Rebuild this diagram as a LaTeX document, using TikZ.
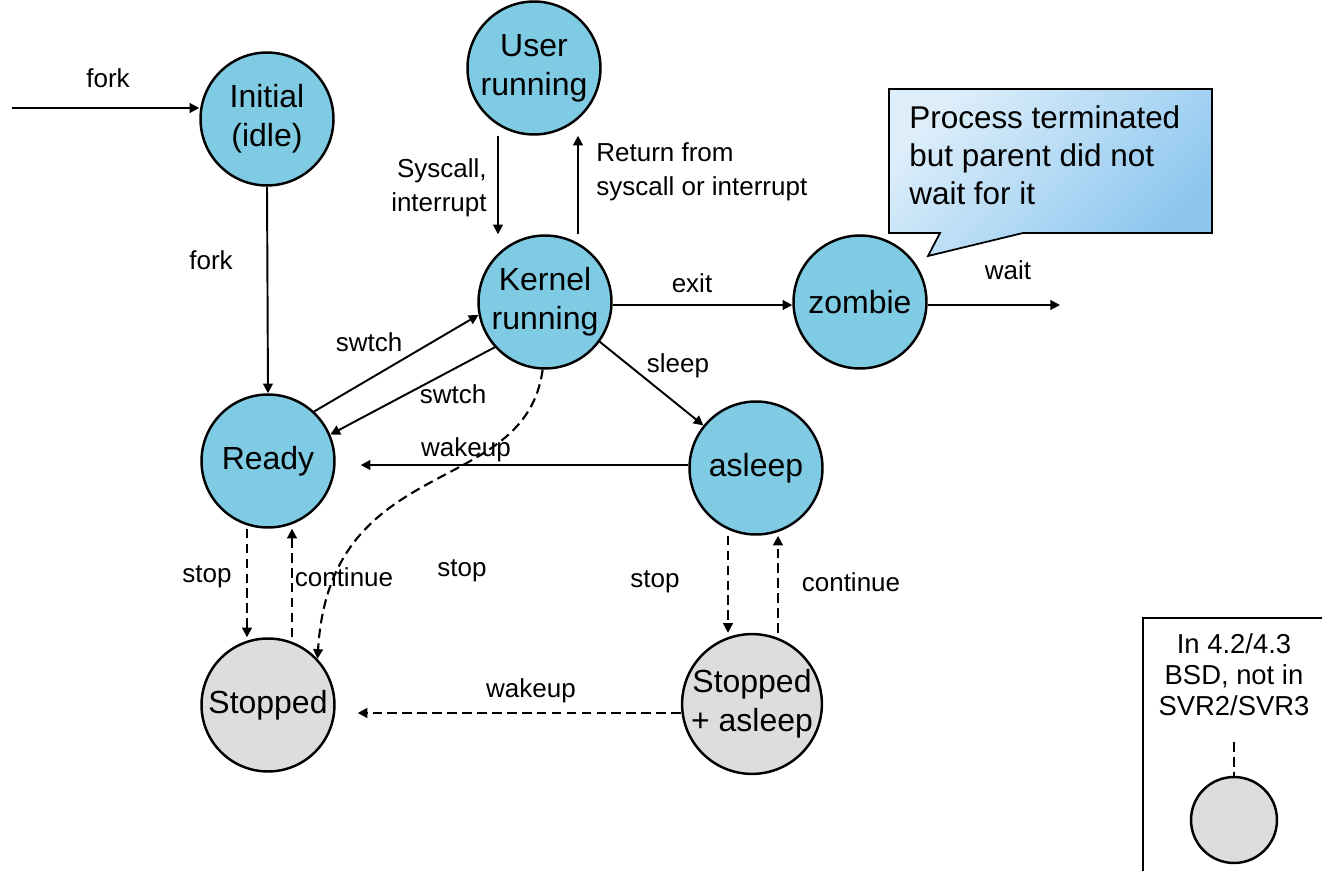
\documentclass[tikz,border=0pt]{standalone}
\usepackage{fontspec}
\setmainfont{Liberation Sans}
\usetikzlibrary{arrows.meta}

\definecolor{statebl}{HTML}{7ECBE3}
\definecolor{stategr}{HTML}{DDDDDD}
\definecolor{notelt}{HTML}{DDEEFA}
\definecolor{notedk}{HTML}{8CC6EF}

\begin{document}
\begin{tikzpicture}[x=0.02cm,y=-0.02cm,
  state/.style={circle,draw=black,line width=1.4pt,fill=statebl,minimum size=2.66cm,inner sep=0pt,align=center,font=\fontsize{18.2}{22.2}\selectfont},
  stoppd/.style={state,fill=stategr},
  lbl/.style={inner sep=0pt,font=\fontsize{14.8}{19.3}\selectfont},
  arr/.style={-{Triangle[length=5.5pt,width=5.5pt]},line width=1.1pt},
  darr/.style={arr,line width=1.2pt,dash pattern=on 5.5pt off 3pt}]
 \useasboundingbox (0,0) rectangle (1322,871);

 % states
 \node[state] (initial) at (267,119) {Initial\\(idle)};
 \node[state] (user) at (534,68) {User\\running};
 \node[state] (kernel) at (545,302) {Kernel\\running};
 \node[state] (zombie) at (860,302) {zombie};
 \node[state] (ready) at (268,461) {Ready};
 \node[state] (asleep) at (756,468) {asleep};
 \node[stoppd] (stopped) at (268,705) {Stopped};
 \node[stoppd] (stopasleep) at (752,704) {Stopped\\+ asleep};
 \coordinate (forkin) at (12,108);
 \coordinate (waitout) at (1060,305);

 % callout
 \path[draw=black,line width=1pt,top color=notelt,bottom color=notedk,shading angle=45]
  (889,89) -- (1212,89) -- (1212,233) -- (1023,233) -- (928,256) -- (940,233) -- (889,233) -- cycle;
 \node[anchor=north west,inner sep=0pt,align=left,font=\fontsize{17.9}{21.6}\selectfont] (note) at (909,105)
  {Process terminated\\but parent did not\\wait for it};

 % solid transitions
 \draw[arr] (forkin) -- (forkin -| initial.west);
 \draw[arr] (initial.south) -- (ready.north);
 \draw[arr] (user.south -| 498,0) -- (kernel.north -| 498,0);
 \draw[arr] (kernel.north -| 578,0) -- (user.south -| 578,0);
 \draw[arr] (kernel.east |- 0,305) -- (zombie.west |- 0,305);
 \draw[arr] (zombie.east |- waitout) -- (waitout);
 \draw[arr] (ready.47) -- (kernel.191);
 \draw[arr] (kernel.222) -- (ready.23);
 \draw[arr] (kernel.-36) -- (asleep.141);
 \draw[arr,shorten >=0.5cm] (asleep.west |- 0,465) -- (ready.east |- 0,465);

 % dashed transitions
 \draw[darr] (kernel.268) .. controls (525,500) and (330,450) .. (stopped.43);
 \draw[darr] (ready.south -| 247,0) -- (stopped.north -| 247,0);
 \draw[darr] (stopped.north -| 292,0) -- (ready.south -| 292,0);
 \draw[darr] (asleep.south -| 728,0) -- (stopasleep.north -| 728,0);
 \draw[darr] (stopasleep.north -| 778,0) -- (asleep.south -| 778,0);
 \draw[darr,shorten >=0.44cm] (stopasleep.west |- 0,713) -- (stopped.east |- 0,713);

 % labels
 \node[lbl] (lfork) at (108,78) {fork};
 \node[lbl] (lfork2) at (211,260) {fork};
 \node[lbl,align=right,anchor=east] (lsys) at (487,188) {Syscall,\\interrupt};
 \node[lbl,align=left,anchor=west] (lret) at (596,172) {Return from\\syscall or interrupt};
 \node[lbl] (lexit) at (692,283) {exit};
 \node[lbl] (lwait) at (1008,270) {wait};
 \node[lbl] (lsw1) at (369,342) {swtch};
 \node[lbl] (lsw2) at (453,394) {swtch};
 \node[lbl] (lsleep) at (678,366) {sleep};
 \node[lbl] (lwake1) at (466,450) {wakeup};
 \node[lbl] (lstop1) at (207,577) {stop};
 \node[lbl] (lcont1) at (344,577) {continue};
 \node[lbl] (lstop2) at (462,571) {stop};
 \node[lbl] (lstop3) at (655,582) {stop};
 \node[lbl] (lcont2) at (851,582) {continue};
 \node[lbl] (lwake2) at (531,691) {wakeup};

 % legend
 \draw[line width=1.2pt] (1322,618) -- (1143,618) -- (1143,871);
 \node[inner sep=0pt,align=center,font=\fontsize{15.6}{17.6}\selectfont] (legend) at (1234,675) {In 4.2/4.3\\BSD, not in\\SVR2/SVR3};
 \node[circle,draw=black,line width=1.4pt,fill=stategr,minimum size=1.72cm,inner sep=0pt] (sample) at (1234,820) {};
 \draw[line width=1.2pt,dash pattern=on 5.5pt off 3pt] (1234,742) -- (sample.north);
\end{tikzpicture}
\end{document}
